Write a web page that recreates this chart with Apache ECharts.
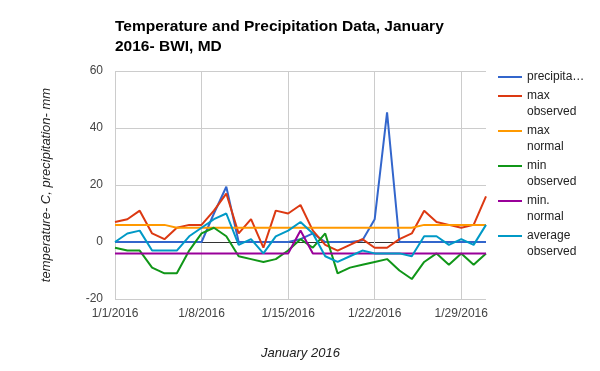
<!DOCTYPE html>
<html>
<head>
<meta charset="utf-8">
<script src="https://cdn.jsdelivr.net/npm/echarts@6/dist/echarts.min.js"></script>
<style>html,body{margin:0;padding:0;background:#fff}#c{width:600px;height:371px}</style>
</head>
<body>
<div id="c"></div>
<script>
var dates = ['1/1/2016','1/2/2016','1/3/2016','1/4/2016','1/5/2016','1/6/2016','1/7/2016','1/8/2016','1/9/2016','1/10/2016','1/11/2016','1/12/2016','1/13/2016','1/14/2016','1/15/2016','1/16/2016','1/17/2016','1/18/2016','1/19/2016','1/20/2016','1/21/2016','1/22/2016','1/23/2016','1/24/2016','1/25/2016','1/26/2016','1/27/2016','1/28/2016','1/29/2016','1/30/2016','1/31/2016'];
var precipitation = [0,0,0,0,0,0,0,0,10,19.4,0,0,0,0,0,1,3,0,0,0,0.5,8,45.5,0,0,0,0,0,0,0,0];
var maxObserved = [7,8,11,3,1,5,6,6,11,17,3,8,-2,11,10,13,4,-1,-3,-1,1,-2,-2,1,3,11,7,6,5,6,16];
var maxNormal = [6,6,6,6,6,5,5,5,5,5,5,5,5,5,5,5,5,5,5,5,5,5,5,5,5,6,6,6,6,6,6];
var minObserved = [-2,-3,-3,-9,-11,-11,-3,3,5,2,-5,-6,-7,-6,-3,1,-2,3,-11,-9,-8,-7,-6,-10,-13,-7,-4,-8,-4,-8,-4];
var minNormal = [-4,-4,-4,-4,-4,-4,-4,-4,-4,-4,-4,-4,-4,-4,-4,4,-4,-4,-4,-4,-4,-4,-4,-4,-4,-4,-4,-4,-4,-4,-4];
var averageObserved = [0,3,4,-3,-3,-3,2,5,8,10,-1,1,-4,2,4,7,3,-5,-7,-5,-3,-4,-4,-4,-5,2,2,-1,1,-1,6];
var seriesNames = ['precipitation','max observed','max normal','min observed','min. normal','average observed'];
var legendTexts = ['precipita\u2026','max\nobserved','max\nnormal','min\nobserved','min.\nnormal','average\nobserved'];
var colors = ['#3366cc','#dc3912','#ff9900','#109618','#990099','#0099c6'];
var seriesData = [precipitation, maxObserved, maxNormal, minObserved, minNormal, averageObserved];
var legendLineY = [77, 96, 131, 166, 201, 236];

var chart = echarts.init(document.getElementById('c'));
var FONT = 'Liberation Sans, Arial, sans-serif';

var legends = seriesNames.map(function (n, i) {
  var two = legendTexts[i].indexOf('\n') >= 0;
  return {
    data: [n],
    orient: 'vertical',
    left: 498,
    top: legendLineY[i] - 8,
    padding: 0,
    itemWidth: 24,
    itemHeight: two ? 32 : 16,
    itemGap: 0,
    icon: two ? 'path://M0,0M24,32M0,7L24,7L24,9L0,9Z' : 'path://M0,0M24,16M0,7L24,7L24,9L0,9Z',
    selectedMode: false,
    formatter: function () { return legendTexts[i]; },
    textStyle: { fontFamily: FONT, fontSize: 12, color: '#222', lineHeight: 16 }
  };
});

var tickIdx = function (idx) { return idx % 7 === 0; };

chart.setOption({
  animation: false,
  color: colors,
  title: {
    text: 'Temperature and Precipitation Data, January\n2016- BWI, MD',
    left: 115, top: 17, padding: 0,
    textStyle: { fontFamily: FONT, fontSize: 15.5, fontWeight: 'bold', color: '#000', lineHeight: 20 }
  },
  legend: legends,
  grid: { left: 115, right: 114, top: 71, bottom: 72, containLabel: false },
  xAxis: {
    type: 'category',
    data: dates,
    boundaryGap: false,
    name: 'January 2016',
    nameLocation: 'middle',
    nameGap: 48,
    nameTextStyle: { fontFamily: FONT, fontSize: 13, fontStyle: 'italic', color: '#222' },
    axisLine: { show: false },
    axisTick: { show: false },
    axisLabel: { interval: tickIdx, fontFamily: FONT, fontSize: 12, color: '#444', margin: 9 },
    splitLine: { show: true, interval: tickIdx, lineStyle: { color: '#cccccc', width: 1 } }
  },
  yAxis: {
    type: 'value',
    min: -20, max: 60, interval: 20,
    name: 'temperature- C, precipitation- mm',
    nameLocation: 'middle',
    nameGap: 62,
    nameTextStyle: { fontFamily: FONT, fontSize: 13, fontStyle: 'italic', color: '#222' },
    axisLine: { show: false },
    axisTick: { show: false },
    axisLabel: { fontFamily: FONT, fontSize: 12, color: '#444', margin: 12 },
    splitLine: { show: true, lineStyle: { color: ['#cccccc', '#333333', '#cccccc', '#cccccc', '#cccccc'], width: 1 } }
  },
  series: seriesNames.map(function (n, i) {
    return {
      name: n,
      type: 'line',
      data: seriesData[i],
      symbol: 'none',
      lineStyle: { width: 2, color: colors[i] },
      itemStyle: { color: colors[i] },
      z: 2 + i
    };
  })
});
</script>
</body>
</html>
